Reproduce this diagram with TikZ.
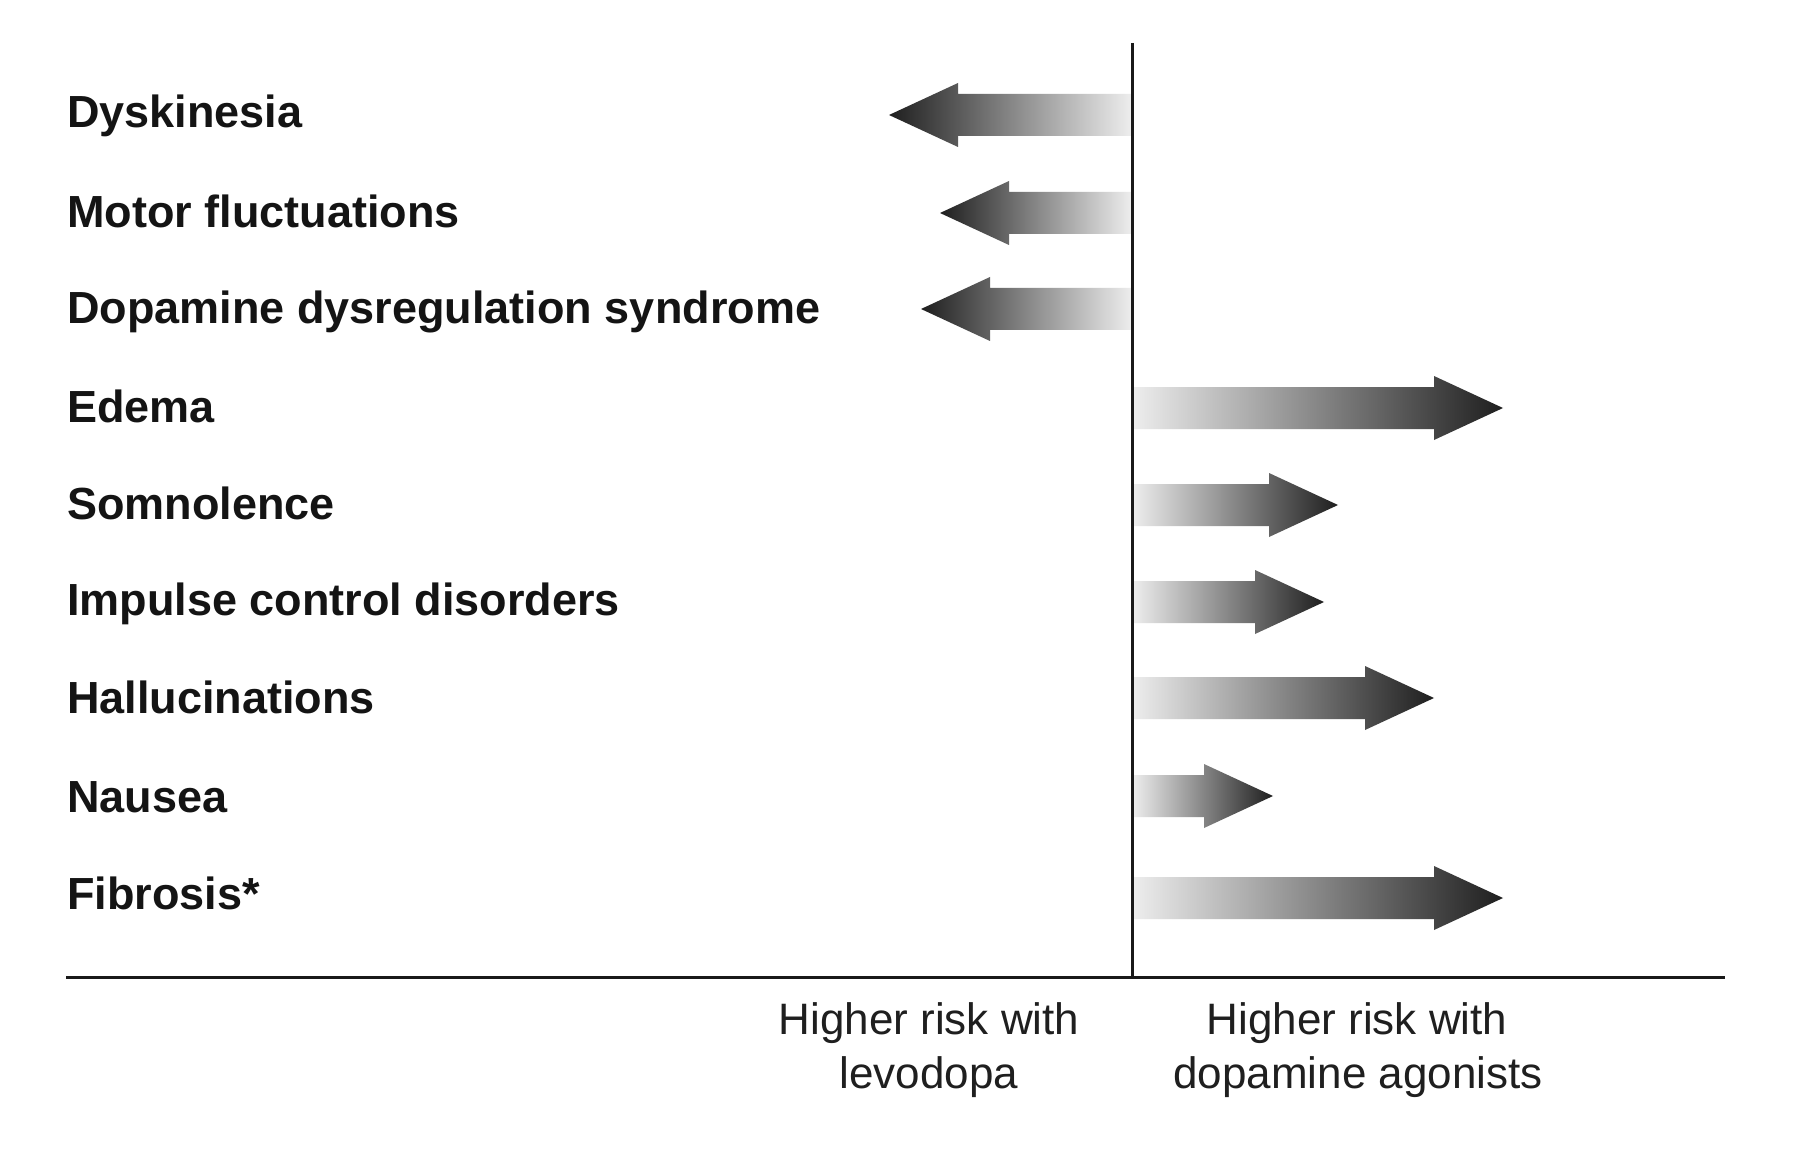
\documentclass[tikz,border=0pt]{standalone}
\usepackage{fontspec}
\setmainfont{Liberation Sans}
\newcommand\leftarr[2]{%
  \shade[left color=black!88, right color=black!7]
    (#1,#2) -- (#1+69,#2-32) -- (#1+69,#2-21) -- (1131,#2-21) -- (1131,#2+21)
    -- (#1+69,#2+21) -- (#1+69,#2+32) -- cycle;}
\newcommand\rightarr[2]{%
  \shade[left color=black!7, right color=black!88]
    (1133,#2-21) -- (#1-69,#2-21) -- (#1-69,#2-32) -- (#1,#2) -- (#1-69,#2+32)
    -- (#1-69,#2+21) -- (1133,#2+21) -- cycle;}
\begin{document}
\begin{tikzpicture}[x=0.5pt,y=-0.5pt,
  lbl/.style={anchor=base west, inner sep=0pt, text=black!92,
    font=\fontsize{22.5}{26}\selectfont\bfseries},
  caption/.style={anchor=base, inner sep=0pt, text=black!88,
    font=\fontsize{22}{27}\selectfont},
  axisline/.style={line width=1.5pt, draw=black!90}]
\useasboundingbox (0,0) rectangle (1813,1160);
\fill[white] (0,0) rectangle (1813,1160);

% arrows
\leftarr{889}{115}
\leftarr{940}{213}
\leftarr{921}{309}
\rightarr{1503}{408}
\rightarr{1338}{505}
\rightarr{1324}{602}
\rightarr{1434}{698}
\rightarr{1273}{796}
\rightarr{1503}{898}

% axes
\coordinate (vtop) at (1132,43);
\coordinate (vbot) at (1132,977);
\coordinate (hleft) at (66,977);
\coordinate (hright) at (1725,977);
\draw[axisline] (vtop) -- (vbot);
\draw[axisline] (hleft) -- (hright);

% row labels
\node[lbl] (dys) at (67,128) {Dyskinesia};
\node[lbl] (mot) at (67,228) {Motor fluctuations};
\node[lbl] (dds) at (67,324) {Dopamine dysregulation syndrome};
\node[lbl] (ede) at (67,422) {Edema};
\node[lbl] (som) at (67,519) {Somnolence};
\node[lbl] (imp) at (67,615) {Impulse control disorders};
\node[lbl] (hal) at (67,713) {Hallucinations};
\node[lbl] (nau) at (67,812) {Nausea};
\node[lbl] (fib) at (67,909) {Fibrosis*};

% captions
\node[caption] (l1) at (929,1034) {Higher risk with};
\node[caption] (l2) at (929,1088) {levodopa};
\node[caption] (r1) at (1357,1034) {Higher risk with};
\node[caption] (r2) at (1358,1088) {dopamine agonists};
\end{tikzpicture}
\end{document}
